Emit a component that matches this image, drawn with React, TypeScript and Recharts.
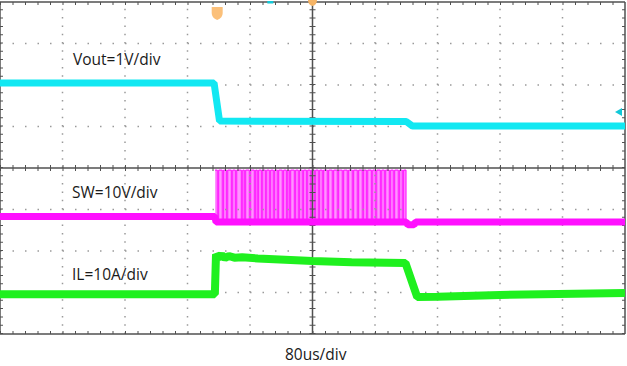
import React from 'react';
import { ComposedChart, Line, Area, XAxis, YAxis, ReferenceLine, ReferenceDot } from 'recharts';

// time in us (80us/div, 10 div), level in divisions (8 div)
const xDivs = [80, 160, 240, 320, 480, 560, 640, 720];
const yDivs = [1, 2, 3, 5, 6, 7];

const voutTrace = [
  { t: 0, v: 6.05 },
  { t: 274, v: 6.05 },
  { t: 281, v: 5.13 },
  { t: 520, v: 5.12 },
  { t: 528, v: 5.01 },
  { t: 800, v: 5.01 },
];

const swTrace = [
  { t: 0, v: 2.83 },
  { t: 275, v: 2.83 },
  { t: 276.5, v: 2.7 },
  { t: 520, v: 2.7 },
  { t: 522, v: 2.63 },
  { t: 530, v: 2.63 },
  { t: 532, v: 2.7 },
  { t: 800, v: 2.7 },
];

const SW_TOP = 3.95;
const SW_LOW = 2.7;
// switching pulses [on, off] in us
const swPulses = [
  [275.2, 278.1], [279.9, 284.5], [286.3, 289.7], [291.5, 296.1], [297.9, 301.2],
  [303.0, 308.9], [310.7, 312.7], [314.5, 319.1], [320.9, 325.5], [327.3, 329.3],
  [331.1, 334.5], [336.3, 339.6], [341.4, 344.7], [346.5, 349.8], [351.6, 354.9],
  [356.7, 361.3], [363.1, 366.5], [368.3, 370.3], [372.1, 376.7], [378.5, 381.8],
  [383.6, 386.9], [388.7, 392.1], [393.9, 397.2], [399.0, 402.3], [404.1, 407.4],
  [409.2, 412.5], [414.3, 418.9], [420.7, 425.3], [427.1, 431.7], [433.5, 438.1],
  [439.9, 444.5], [446.3, 450.9], [452.7, 457.3], [459.1, 463.7], [465.5, 468.9],
  [470.7, 475.3], [477.1, 480.4], [482.2, 486.8], [488.6, 491.9], [493.7, 498.3],
  [500.1, 503.4], [505.2, 509.8], [511.6, 514.9], [516.7, 519.7],
];

const ilTrace = [
  { t: 0, v: 0.96 },
  { t: 275, v: 0.96 },
  { t: 276.5, v: 1.92 },
  { t: 280, v: 1.84 },
  { t: 284, v: 1.9 },
  { t: 288, v: 1.83 },
  { t: 293, v: 1.88 },
  { t: 300, v: 1.84 },
  { t: 310, v: 1.85 },
  { t: 330, v: 1.82 },
  { t: 400, v: 1.76 },
  { t: 450, v: 1.73 },
  { t: 519, v: 1.71 },
  { t: 534, v: 0.89 },
  { t: 560, v: 0.9 },
  { t: 640, v: 0.94 },
  { t: 800, v: 0.99 },
];

const labels = [
  { text: 'Vout=1V/div', x: 73, y: 65 },
  { text: 'SW=10V/div', x: 72, y: 198 },
  { text: 'IL=10A/div', x: 72, y: 280 },
  { text: '80us/div', x: 285, y: 360 },
];

const pulseData = swPulses.flatMap(([on, off]) => [
  { t: on, v: SW_TOP },
  { t: off, v: SW_LOW },
]);

const GRID = '#9a9a9a';
const AXIS = '#505050';

const App: React.FC = () => {
  return (
    <div style={{ position: 'absolute', left: 0, top: 0, width: 627, height: 366, background: '#fff' }}>
      <ComposedChart width={627} height={366} margin={{ top: 2, right: 2, bottom: 32, left: 0 }}>
        <XAxis type="number" dataKey="t" domain={[0, 800]} hide allowDataOverflow />
        <YAxis type="number" domain={[0, 8]} hide allowDataOverflow />

        {xDivs.map((x) => (
          <ReferenceLine key={'gx' + x} x={x} stroke={GRID} strokeWidth={1.5} strokeDasharray="1.5 6.8" />
        ))}
        {yDivs.map((y) => (
          <ReferenceLine key={'gy' + y} y={y} stroke={GRID} strokeWidth={1.5} strokeDasharray="1.5 11" />
        ))}

        {/* frame */}
        <ReferenceLine y={8} stroke={AXIS} strokeWidth={1.5} />
        <ReferenceLine y={0} stroke={AXIS} strokeWidth={1.5} />
        <ReferenceLine x={0} stroke={AXIS} strokeWidth={1.5} />
        <ReferenceLine x={800} stroke={AXIS} strokeWidth={1.5} />
        <ReferenceLine y={7.964} stroke={AXIS} strokeWidth={3} strokeDasharray="1 11.5" />
        <ReferenceLine y={0.036} stroke={AXIS} strokeWidth={3} strokeDasharray="1 11.5" />
        <ReferenceLine x={1.9} stroke={AXIS} strokeWidth={3} strokeDasharray="1 7.3" />
        <ReferenceLine x={798.1} stroke={AXIS} strokeWidth={3} strokeDasharray="1 7.3" />

        {/* center cross */}
        <ReferenceLine y={4} stroke={AXIS} strokeWidth={1.5} />
        <ReferenceLine y={4} stroke={AXIS} strokeWidth={6} strokeDasharray="1 11.5" />
        <ReferenceLine x={400} stroke={AXIS} strokeWidth={1.5} />
        <ReferenceLine x={400} stroke={AXIS} strokeWidth={6} strokeDasharray="1 7.3" />

        <Area
          data={pulseData}
          dataKey="v"
          type="stepAfter"
          baseValue={SW_LOW}
          stroke="#ff00ff"
          strokeWidth={1}
          fill="#ff70ff"
          fillOpacity={0.75}
          isAnimationActive={false}
        />
        <Line data={voutTrace} dataKey="v" type="linear" stroke="#12e8f2" strokeWidth={7} strokeLinejoin="bevel" dot={false} isAnimationActive={false} />
        <Line data={swTrace} dataKey="v" type="linear" stroke="#ff10ff" strokeWidth={7} strokeLinejoin="bevel" dot={false} isAnimationActive={false} />
        <Line data={ilTrace} dataKey="v" type="linear" stroke="#1ff01f" strokeWidth={8} strokeLinejoin="bevel" dot={false} isAnimationActive={false} />

        {/* scope markers */}
        <ReferenceDot
          x={278}
          y={7.72}
          ifOverflow="visible"
          shape={(p: any) => (
            <path
              d={`M${p.cx - 5.5},${p.cy - 6.5} h11 v6 q0,5 -5.5,7 q-5.5,-2 -5.5,-7 z`}
              fill="#fbc07a"
            />
          )}
        />
        <ReferenceDot
          x={400}
          y={8}
          ifOverflow="visible"
          shape={(p: any) => (
            <path d={`M${p.cx - 4.5},${p.cy - 2} h9 q0,5 -4.5,6 q-4.5,-1 -4.5,-6 z`} fill="#f5b466" />
          )}
        />
        <ReferenceDot
          x={346}
          y={8}
          ifOverflow="visible"
          shape={(p: any) => <rect x={p.cx - 3} y={p.cy - 1} width={6} height={2.5} fill="#12c8d8" />}
        />
        <ReferenceDot
          x={800}
          y={5.35}
          ifOverflow="visible"
          shape={(p: any) => (
            <path d={`M${p.cx - 10},${p.cy} l7,-4 v8 z`} fill="#12c8d8" />
          )}
        />
      </ComposedChart>
      <svg width={627} height={366} style={{ position: 'absolute', left: 0, top: 0, pointerEvents: 'none' }}>
        {labels.map((l) => (
          <text key={l.text} x={l.x} y={l.y} fontFamily="'Open Sans', sans-serif" fontSize={15.5} fill="#1a1a1a">
            {l.text}
          </text>
        ))}
      </svg>
    </div>
  );
};

export default App;
